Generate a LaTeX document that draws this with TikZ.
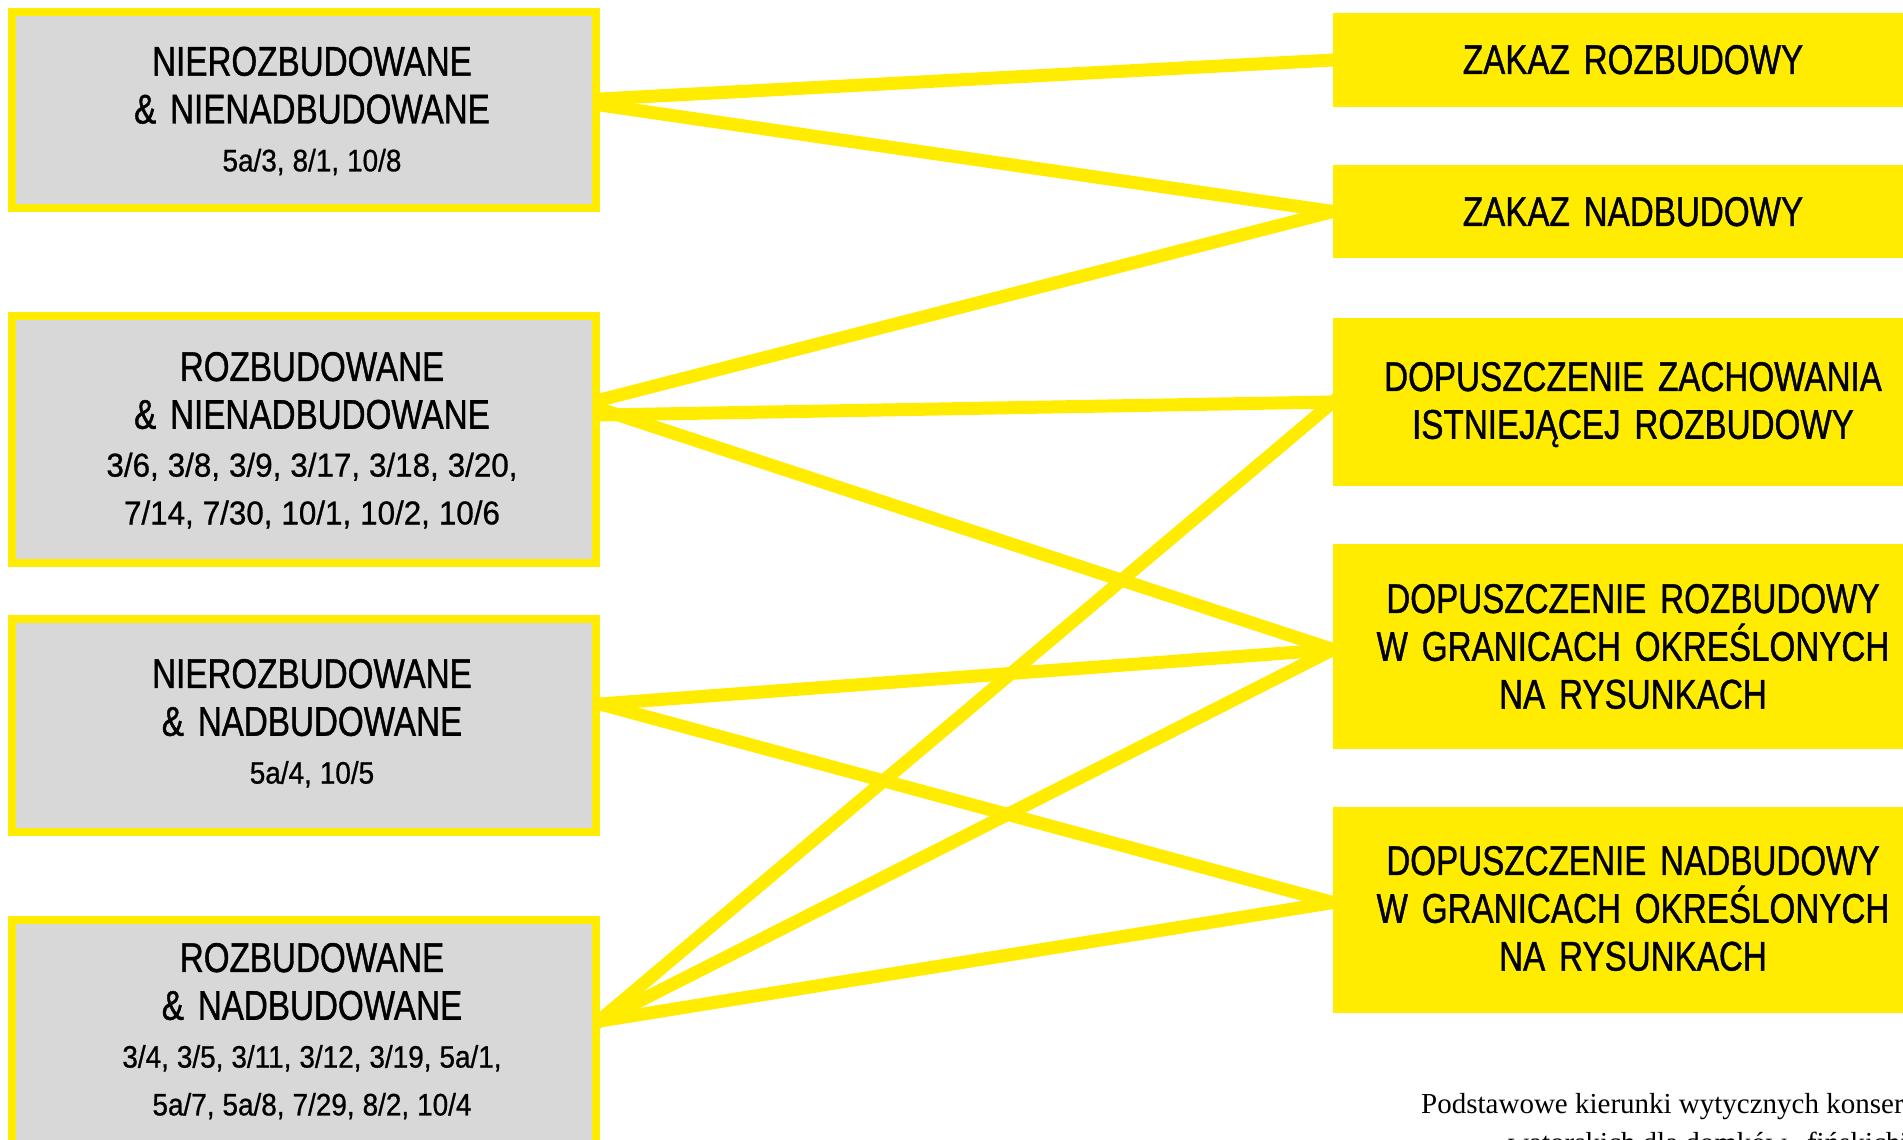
\documentclass[tikz,border=0pt]{standalone}
\usepackage{fontspec}
\setmainfont{Liberation Sans}[FakeStretch=0.80, FakeBold=1]
\newfontfamily\numfont{Liberation Sans}[FakeStretch=0.90, FakeBold=0.8]
\newfontfamily\numfontb{Liberation Sans}[FakeStretch=0.95, FakeBold=0.8]
\newfontfamily\capfont{Liberation Serif}
\usetikzlibrary{backgrounds}
\definecolor{ylw}{RGB}{255,236,0}
\definecolor{gry}{RGB}{216,216,216}
\setlength{\parindent}{0pt}
\newcommand{\nums}[1]{{\numfont\fontsize{31}{47.8}\selectfont\spaceskip=8pt\relax #1}}
\newcommand{\numsb}[1]{{\numfontb\fontsize{33}{47.8}\selectfont\spaceskip=9pt\relax #1}}
\begin{document}
\begin{tikzpicture}[x=1pt,y=-1pt,
  lbox/.style={draw=ylw, line width=8pt, fill=gry, inner sep=0pt, outer sep=4pt, minimum width=584pt},
  rbox/.style={fill=ylw, draw=none, inner sep=0pt, outer sep=0pt, minimum width=600pt},
  txt/.style={inner sep=0pt, outer sep=0pt, text width=700pt, align=center, anchor=north,
    font=\fontsize{41.5}{47.8}\selectfont},
  link/.style={draw=ylw, line width=13pt, shorten <=-6pt, shorten >=-6pt}]
\useasboundingbox (0,0) rectangle (1903,1140);
\clip (0,0) rectangle (1903,1140);

% left boxes
\node[lbox, minimum height=196pt] (L1) at (304,110) {};
\node[lbox, minimum height=247pt] (L2) at (304,439.5) {};
\node[lbox, minimum height=213pt] (L3) at (304,725.5) {};
\node[lbox, minimum height=224pt] (L4) at (304,1032) {};

\node[txt] (L1t) at (312,46.7) {NIEROZBUDOWANE\\\& NIENADBUDOWANE\\\nums{5a/3, 8/1, 10/8}};
\node[txt] (L2t) at (312,352) {ROZBUDOWANE\\\& NIENADBUDOWANE\\\numsb{3/6, 3/8, 3/9, 3/17, 3/18, 3/20,}\\\numsb{7/14, 7/30, 10/1, 10/2, 10/6}};
\node[txt] (L3t) at (312,659) {NIEROZBUDOWANE\\\& NADBUDOWANE\\\nums{5a/4, 10/5}};
\node[txt] (L4t) at (312,943) {ROZBUDOWANE\\\& NADBUDOWANE\\\nums{3/4, 3/5, 3/11, 3/12, 3/19, 5a/1,}\\\nums{5a/7, 5a/8, 7/29, 8/2, 10/4}};

% right boxes
\node[rbox, minimum height=94pt] (R1) at (1633,60) {};
\node[rbox, minimum height=93pt] (R2) at (1633,211.5) {};
\node[rbox, minimum height=168pt] (R3) at (1633,402) {};
\node[rbox, minimum height=205pt] (R4) at (1633,646.5) {};
\node[rbox, minimum height=206pt] (R5) at (1633,910) {};

\node[txt] (R1t) at (1633,45) {ZAKAZ ROZBUDOWY};
\node[txt] (R2t) at (1633,197) {ZAKAZ NADBUDOWY};
\node[txt] (R3t) at (1633,362) {DOPUSZCZENIE ZACHOWANIA\\ISTNIEJĄCEJ ROZBUDOWY};
\node[txt] (R4t) at (1633,584) {DOPUSZCZENIE ROZBUDOWY\\W GRANICACH OKREŚLONYCH\\NA RYSUNKACH};
\node[txt] (R5t) at (1633,846) {DOPUSZCZENIE NADBUDOWY\\W GRANICACH OKREŚLONYCH\\NA RYSUNKACH};

% caption
\node[anchor=north west, align=left, inner sep=0pt, font=\capfont\fontsize{29}{39}\selectfont] (cap) at (1421,1093)
  {Podstawowe kierunki wytycznych konser-\\\hspace*{87pt}watorskich dla domków „fińskich”};

% connectors
\begin{scope}[on background layer]
\draw[link] ([yshift=11pt]L1.east) -- (R1.west);
\draw[link] ([yshift=5pt]L1.east) -- (R2.west);
\draw[link] ([yshift=39.5pt]L2.east) -- (R2.west);
\draw[link] ([yshift=24.5pt]L2.east) -- (R3.west);
\draw[link] ([yshift=30.5pt]L2.east) -- ([yshift=-3pt]R4.west);
\draw[link] ([yshift=21.5pt]L3.east) -- ([yshift=-3pt]R4.west);
\draw[link] ([yshift=21.5pt]L3.east) -- ([yshift=7.5pt]R5.west);
\draw[link] ([yshift=12pt]L4.east) -- (R3.west);
\draw[link] ([yshift=11pt]L4.east) -- ([yshift=-3pt]R4.west);
\draw[link] ([yshift=11pt]L4.east) -- ([yshift=7.5pt]R5.west);
\end{scope}
\end{tikzpicture}
\end{document}
